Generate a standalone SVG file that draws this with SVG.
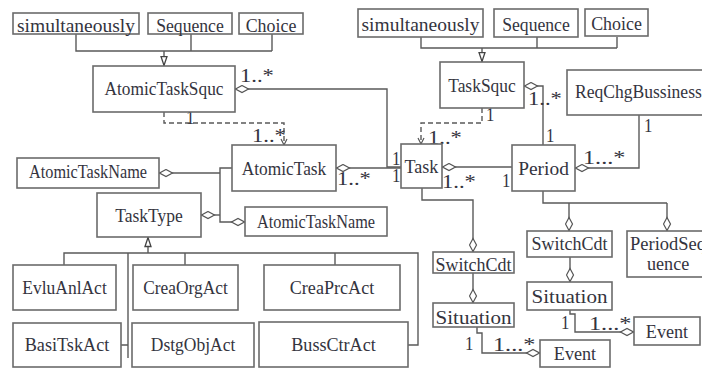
<svg xmlns="http://www.w3.org/2000/svg" width="702" height="368" viewBox="0 0 702 368">
<defs>
<style>
.box{fill:#fff;stroke:#6b6b6b;stroke-width:1.6}
.t{font-family:"Liberation Serif",serif;font-size:19px;fill:#34343e}
.m{text-anchor:middle}
.ln{fill:none;stroke:#5a5a5a;stroke-width:1.4}
.dash{stroke-dasharray:5,3}
</style>
<marker id="dia" markerWidth="16" markerHeight="10" refX="0" refY="4.5" orient="auto" markerUnits="userSpaceOnUse"><path d="M0.5,4.5 L7,1 L13.5,4.5 L7,8 Z" fill="#fff" stroke="#555" stroke-width="1.2"/></marker>
<marker id="tri" markerWidth="12" markerHeight="10" refX="10.5" refY="4" orient="auto" markerUnits="userSpaceOnUse"><path d="M1,1 L10,4 L1,7 Z" fill="#fff" stroke="#444" stroke-width="1.3"/></marker>
<marker id="arr" markerWidth="10" markerHeight="10" refX="7" refY="4" orient="auto" markerUnits="userSpaceOnUse"><path d="M1,1 L7,4 L1,7" fill="none" stroke="#555" stroke-width="1.2"/></marker>
</defs>
<rect width="702" height="368" fill="#fff"/>

<g id="connectors">
<path class="ln" d="M76,34 V51 H272 M191,34 V51 M272,34 V51"/>
<path class="ln" d="M164,51 V66" marker-end="url(#tri)"/>
<path class="ln" d="M421,37 V48 H617 M537,37 V48 M617,37 V48"/>
<path class="ln" d="M482,48 V62" marker-end="url(#tri)"/>
<path class="ln" d="M235,89 H387 V167 H401" marker-start="url(#dia)"/>
<path class="ln" d="M336,168 H401" marker-start="url(#dia)"/>
<path class="ln dash" d="M164,112 V123 H284 V145" marker-end="url(#arr)"/>
<path class="ln dash" d="M482,108 V123 H421 V144" marker-end="url(#arr)"/>
<path class="ln" d="M442,167 H512" marker-start="url(#dia)"/>
<path class="ln" d="M524,86 H543 V145" marker-start="url(#dia)"/>
<path class="ln" d="M575,168 H639 V115" marker-start="url(#dia)"/>
<path class="ln" d="M543,191 V203 H667"/>
<path class="ln" d="M569,231 V203" marker-start="url(#dia)"/>
<path class="ln" d="M667,231 V203" marker-start="url(#dia)"/>
<path class="ln" d="M570,282 V257" marker-start="url(#dia)"/>
<path class="ln" d="M634,332 H575 V314 H570 V310" marker-start="url(#dia)"/>
<path class="ln" d="M473,252 V200 H422 V188" marker-start="url(#dia)"/>
<path class="ln" d="M473,303 V273" marker-start="url(#dia)"/>
<path class="ln" d="M540,353 H482 V333 H477 V327" marker-start="url(#dia)"/>
<path class="ln" d="M159,173 H220" marker-start="url(#dia)"/>
<path class="ln" d="M201,215 H220" marker-start="url(#dia)"/>
<path class="ln" d="M245,222 H220 V168 H232" marker-start="url(#dia)"/>
<path class="ln" d="M148,253 V237" marker-end="url(#tri)"/>
<path class="ln" d="M64,265 V253 H418 V345 H408 M185,253 V265 M335,253 V265 M128,253 V358 M121,345 H128"/>
<g class="t">
<text x="240" y="82" textLength="33.8" lengthAdjust="spacingAndGlyphs">1..*</text>
<text x="186" y="124" textLength="8.4" lengthAdjust="spacingAndGlyphs">1</text>
<text x="252" y="142" textLength="33.8" lengthAdjust="spacingAndGlyphs">1..*</text>
<text x="337" y="185" textLength="33.8" lengthAdjust="spacingAndGlyphs">1..*</text>
<text x="392" y="165" textLength="8.4" lengthAdjust="spacingAndGlyphs">1</text>
<text x="392" y="182" textLength="8.4" lengthAdjust="spacingAndGlyphs">1</text>
<text x="428" y="144" textLength="33.8" lengthAdjust="spacingAndGlyphs">1..*</text>
<text x="442" y="188" textLength="33.8" lengthAdjust="spacingAndGlyphs">1..*</text>
<text x="502" y="187" textLength="8.4" lengthAdjust="spacingAndGlyphs">1</text>
<text x="486" y="121" textLength="8.4" lengthAdjust="spacingAndGlyphs">1</text>
<text x="528" y="105" textLength="33.8" lengthAdjust="spacingAndGlyphs">1..*</text>
<text x="546" y="142" textLength="8.4" lengthAdjust="spacingAndGlyphs">1</text>
<text x="644" y="132" textLength="8.4" lengthAdjust="spacingAndGlyphs">1</text>
<text x="583" y="164" textLength="42.3" lengthAdjust="spacingAndGlyphs">1...*</text>
<text x="561" y="329" textLength="8.4" lengthAdjust="spacingAndGlyphs">1</text>
<text x="589" y="330" textLength="42.3" lengthAdjust="spacingAndGlyphs">1...*</text>
<text x="465" y="350" textLength="8.4" lengthAdjust="spacingAndGlyphs">1</text>
<text x="493" y="351" textLength="42.3" lengthAdjust="spacingAndGlyphs">1...*</text>
</g>
</g>

<g id="sim1"><rect class="box" x="13" y="13" width="126" height="21"/><text class="t m" x="76" y="31.5" textLength="118" lengthAdjust="spacingAndGlyphs">simultaneously</text></g>
<g id="seq1"><rect class="box" x="148" y="13" width="84" height="21"/><text class="t m" x="190" y="31.5" textLength="67.6" lengthAdjust="spacingAndGlyphs">Sequence</text></g>
<g id="cho1"><rect class="box" x="239" y="13" width="64" height="21"/><text class="t m" x="271" y="31.5" textLength="50.7" lengthAdjust="spacingAndGlyphs">Choice</text></g>
<g id="sim2"><rect class="box" x="358" y="9" width="125" height="28"/><text class="t m" x="420.5" y="30.5" textLength="118" lengthAdjust="spacingAndGlyphs">simultaneously</text></g>
<g id="seq2"><rect class="box" x="494" y="9" width="84" height="28"/><text class="t m" x="536" y="30.5" textLength="67.6" lengthAdjust="spacingAndGlyphs">Sequence</text></g>
<g id="cho2"><rect class="box" x="585" y="9" width="63" height="27"/><text class="t m" x="616.5" y="30" textLength="50.7" lengthAdjust="spacingAndGlyphs">Choice</text></g>
<g id="atomicTaskSquc"><rect class="box" x="93" y="66" width="142" height="46"/><text class="t m" x="164" y="95" textLength="119" lengthAdjust="spacingAndGlyphs">AtomicTaskSquc</text></g>
<g id="taskSquc"><rect class="box" x="440" y="62" width="84" height="46"/><text class="t m" x="482" y="91.5" textLength="67.6" lengthAdjust="spacingAndGlyphs">TaskSquc</text></g>
<g id="reqChg"><rect class="box" x="567" y="70" width="150" height="45"/><text class="t" x="575" y="98" textLength="126.8" lengthAdjust="spacingAndGlyphs">ReqChgBussiness</text></g>
<g id="atomicTask"><rect class="box" x="232" y="145" width="104" height="46"/><text class="t m" x="284" y="175" textLength="84.5" lengthAdjust="spacingAndGlyphs">AtomicTask</text></g>
<g id="task"><rect class="box" x="401" y="144" width="41" height="44"/><text class="t m" x="421.5" y="173" textLength="33.8" lengthAdjust="spacingAndGlyphs">Task</text></g>
<g id="period"><rect class="box" x="512" y="145" width="63" height="46"/><text class="t m" x="543.5" y="175" textLength="50.7" lengthAdjust="spacingAndGlyphs">Period</text></g>
<g id="atomicTaskName1"><rect class="box" x="17" y="158" width="142" height="30"/><text class="t m" x="88" y="178" textLength="118" lengthAdjust="spacingAndGlyphs">AtomicTaskName</text></g>
<g id="taskType"><rect class="box" x="97" y="193" width="104" height="44"/><text class="t m" x="149" y="222" textLength="67.6" lengthAdjust="spacingAndGlyphs">TaskType</text></g>
<g id="atomicTaskName2"><rect class="box" x="245" y="207" width="142" height="29"/><text class="t m" x="316" y="228" textLength="118" lengthAdjust="spacingAndGlyphs">AtomicTaskName</text></g>
<g id="evluAnlAct"><rect class="box" x="13" y="265" width="103" height="45"/><text class="t m" x="64.5" y="294" textLength="84.5" lengthAdjust="spacingAndGlyphs">EvluAnlAct</text></g>
<g id="creaOrgAct"><rect class="box" x="133" y="265" width="105" height="45"/><text class="t m" x="185.5" y="294" textLength="84.5" lengthAdjust="spacingAndGlyphs">CreaOrgAct</text></g>
<g id="creaPrcAct"><rect class="box" x="264" y="265" width="136" height="45"/><text class="t m" x="332" y="294" textLength="84.5" lengthAdjust="spacingAndGlyphs">CreaPrcAct</text></g>
<g id="basiTskAct"><rect class="box" x="13" y="323" width="108" height="44"/><text class="t m" x="67" y="350.5" textLength="84.5" lengthAdjust="spacingAndGlyphs">BasiTskAct</text></g>
<g id="dstgObjAct"><rect class="box" x="132" y="323" width="122" height="44"/><text class="t m" x="193" y="350.5" textLength="84.5" lengthAdjust="spacingAndGlyphs">DstgObjAct</text></g>
<g id="bussCtrAct"><rect class="box" x="259" y="322" width="149" height="45"/><text class="t m" x="333.5" y="350.5" textLength="84.5" lengthAdjust="spacingAndGlyphs">BussCtrAct</text></g>
<g id="switchCdt1"><rect class="box" x="433" y="252" width="81" height="21"/><text class="t m" x="473.5" y="271" textLength="76" lengthAdjust="spacingAndGlyphs">SwitchCdt</text></g>
<g id="situation1"><rect class="box" x="433" y="303" width="81" height="24"/><text class="t m" x="473.5" y="324" textLength="76" lengthAdjust="spacingAndGlyphs">Situation</text></g>
<g id="event1"><rect class="box" x="540" y="340" width="70" height="27"/><text class="t m" x="575" y="360" textLength="42.3" lengthAdjust="spacingAndGlyphs">Event</text></g>
<g id="switchCdt2"><rect class="box" x="527" y="231" width="85" height="26"/><text class="t m" x="569.5" y="250" textLength="76" lengthAdjust="spacingAndGlyphs">SwitchCdt</text></g>
<g id="periodSequence"><rect class="box" x="627" y="231" width="82" height="46"/><text class="t" x="630" y="250" textLength="76" lengthAdjust="spacingAndGlyphs">PeriodSeq</text><text class="t" x="647" y="270" textLength="42.3" lengthAdjust="spacingAndGlyphs">uence</text></g>
<g id="situation2"><rect class="box" x="527" y="282" width="85" height="28"/><text class="t m" x="569.5" y="303" textLength="76" lengthAdjust="spacingAndGlyphs">Situation</text></g>
<g id="event2"><rect class="box" x="634" y="317" width="66" height="28"/><text class="t m" x="667" y="338" textLength="42.3" lengthAdjust="spacingAndGlyphs">Event</text></g>
</svg>
